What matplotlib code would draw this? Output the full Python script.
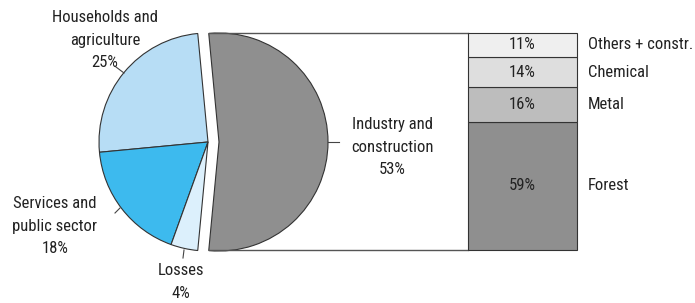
import matplotlib
matplotlib.use("Agg")
import matplotlib.pyplot as plt
from matplotlib import font_manager

pie_labels = ["Industry and\nconstruction\n53%", "Households and\nagriculture\n25%",
              "Services and\npublic sector\n18%", "Losses\n4%"]
pie_values = [53, 25, 18, 4]
pie_colors = ["#8f8f8f", "#b7ddf5", "#3dbaee", "#dcf0fc"]

bar_labels = ["Forest", "Metal", "Chemical", "Others + constr."]
bar_values = [59, 16, 14, 11]
bar_colors = ["#8f8f8f", "#bdbdbd", "#dedede", "#efefef"]

avail = {f.name for f in font_manager.fontManager.ttflist}
fam = [f for f in ["Liberation Sans Narrow", "Roboto Condensed", "Roboto", "DejaVu Sans"] if f in avail]
plt.rcParams['font.family'] = fam
FS = 12
LS = 1.6
TC = "#222222"

W, H = 695, 303
fig = plt.figure(figsize=(W / 100, H / 100), dpi=100)
ax = fig.add_axes([0, 0, 1, 1])

cx, cy, r = 208, H - 142, 109
start = -pie_values[0] * 3.6 / 2
wedges, _ = ax.pie(pie_values, colors=pie_colors, startangle=start, counterclock=True,
                   center=(cx, cy), radius=r, explode=[11, 0, 0, 0],
                   wedgeprops=dict(edgecolor="#333333", linewidth=0.8))
ax.set_xlim(0, W)
ax.set_ylim(0, H)
ax.set_aspect("equal")
ax.axis("off")

# connector lines
ax.plot([209, 468], [H - 33, H - 33], color="#555555", lw=1)
ax.plot([209, 468], [H - 250, H - 250], color="#555555", lw=1)

# leader ticks
ax.plot([328, 339], [H - 142, H - 142], color="#444444", lw=0.8)
ax.plot([116, 124], [H - 67, H - 73], color="#444444", lw=0.8)
ax.plot([115, 120], [H - 213, H - 208], color="#444444", lw=0.8)
ax.plot([183, 184], [H - 258, H - 250], color="#444444", lw=0.8)

# pie labels
ax.text(392, H - 147, pie_labels[0], ha="center", va="center", fontsize=FS, color=TC, linespacing=LS)
ax.text(105, H - 40, pie_labels[1], ha="center", va="center", fontsize=FS, color=TC, linespacing=LS)
ax.text(55, H - 226, pie_labels[2], ha="center", va="center", fontsize=FS, color=TC, linespacing=LS)
ax.text(181, H - 282, pie_labels[3], ha="center", va="center", fontsize=FS, color=TC, linespacing=LS)

# stacked bar
bx = fig.add_axes([468 / W, 53 / H, 109 / W, 217 / H])
bottom = 0
for lab, v, c in zip(bar_labels, bar_values, bar_colors):
    bx.bar(0, v, bottom=bottom, width=1, color=c, edgecolor="#333333", linewidth=0.8,
           clip_on=False)
    bx.text(0, bottom + v / 2, f"{v}%", ha="center", va="center", fontsize=FS, color=TC)
    bx.text(0.60, bottom + v / 2, lab, ha="left", va="center", fontsize=FS, color=TC,
            clip_on=False)
    bottom += v
bx.set_xlim(-0.5, 0.5)
bx.set_ylim(0, 100)
bx.axis("off")

fig.savefig("out.png", dpi=100)
